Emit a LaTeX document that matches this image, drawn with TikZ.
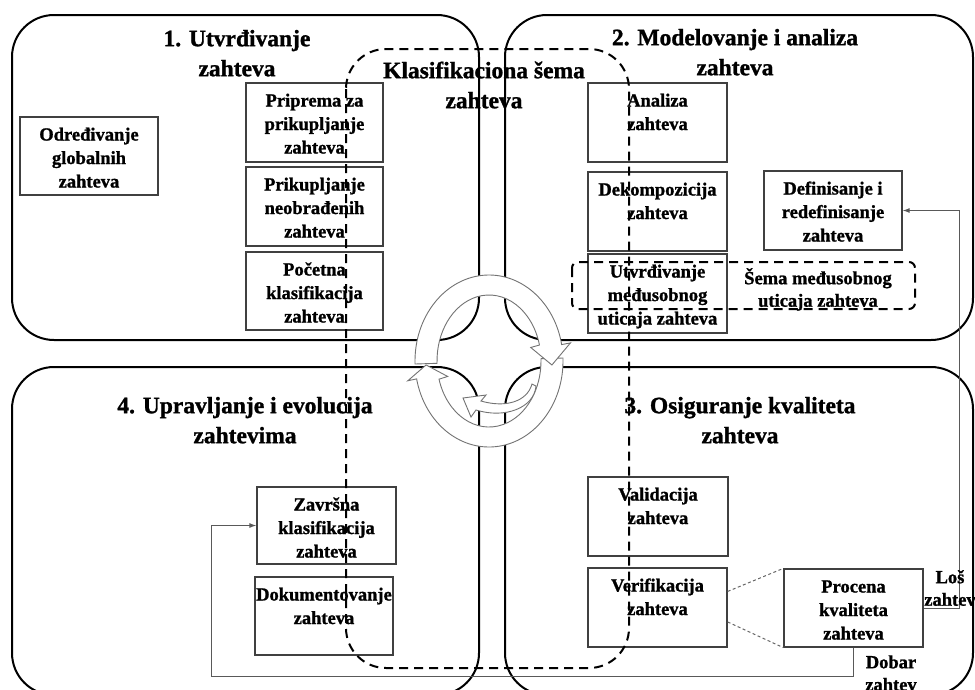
\documentclass[tikz,border=0pt]{standalone}
\usepackage{fontspec}
\setmainfont{Liberation Serif}[BoldFeatures={FakeBold=1.2}]
\usetikzlibrary{arrows.meta,calc}

% fonts used in the picture
\newcommand{\qboxfont}{\fontsize{18.5}{23.5}\selectfont\bfseries}
\newcommand{\qtitlefont}{\fontsize{23.5}{30}\selectfont\bfseries}
\newcommand{\qlabelfont}{\fontsize{18.5}{22.5}\selectfont\bfseries}
% top-aligned text inside a box of fixed size: width, height, text
\newcommand{\boxtxt}[3]{\parbox[c][#2pt][t]{#1pt}{\centering\rule{0pt}{23.5pt}#3}}

\begin{document}
\begin{tikzpicture}[x=1pt,y=1pt,
  quad/.style={draw=black, line width=2pt, rounded corners=42pt},
  box/.style={draw=black!75, line width=1.3pt, inner sep=0pt, font=\qboxfont},
  ttl/.style={align=center, inner sep=0pt, font=\qtitlefont, anchor=north},
  lbl/.style={align=center, inner sep=0pt, font=\qlabelfont, anchor=north},
  region/.style={draw=black, line width=2pt, dash pattern=on 9pt off 6pt},
  link/.style={draw=black!65, line width=1pt},
  arrowend/.style={-{Latex[length=7pt,width=5pt]}},
  fine/.style={draw=black!60, line width=1pt, dash pattern=on 3pt off 2.5pt},
  ringpart/.style={draw=black!55, line width=0.9pt, fill=white}]

\useasboundingbox (0,0) rectangle (975,-689);
\clip (0,0) rectangle (975,-689);

% the four phases
\draw[quad] (12,-15) rectangle (479,-340);
\draw[quad] (505,-15) rectangle (973,-340);
\draw[quad] (12,-367) rectangle (479,-695);
\draw[quad] (505,-367) rectangle (973,-695);

% phase titles
\node[ttl] (t1) at (237,-24) {\rule{0pt}{22pt}1. Utvrđivanje\\zahteva};
\node[ttl] (t2) at (735,-23) {\rule{0pt}{22pt}2. Modelovanje i analiza\\zahteva};
\node[ttl] (t4) at (245,-391) {\rule{0pt}{22pt}4. Upravljanje i evolucija\\zahtevima};
\node[ttl] (t3) at (740,-391) {\rule{0pt}{22pt}3. Osiguranje kvaliteta\\zahteva};
\node[ttl] (tk) at (484,-56) {\rule{0pt}{22pt}Klasifikaciona šema\\zahteva};

% activities, phase 1
\node[box] (og) at (89,-156) {\boxtxt{138}{78}{Određivanje\\globalnih\\zahteva}};
\node[box] (pz) at (314.5,-122.5) {\boxtxt{137}{79}{Priprema za\\prikupljanje\\zahteva}};
\node[box] (pn) at (314.5,-206.5) {\boxtxt{137}{79}{Prikupljanje\\neobrađenih\\zahteva}};
\node[box] (pk) at (314.5,-291) {\boxtxt{137}{78}{Početna\\klasifikacija\\zahteva}};

% activities, phase 2
\node[box] (an) at (657.5,-122.5) {\boxtxt{139}{79}{Analiza\\zahteva}};
\node[box] (dk) at (657.5,-211.5) {\boxtxt{139}{79}{Dekompozicija\\zahteva}};
\node[box] (um) at (657.5,-293.5) {\boxtxt{139}{79}{Utvrđivanje\\međusobnog\\uticaja zahteva}};
\node[box] (dr) at (833,-210.5) {\boxtxt{138}{79}{Definisanje i\\redefinisanje\\zahteva}};

% activities, phase 4
\node[box] (zk) at (326.5,-525.5) {\boxtxt{139}{77}{Završna\\klasifikacija\\zahteva}};
\node[box] (dz) at (324,-616) {\boxtxt{138}{78}{Dokumentovanje\\zahteva}};

% activities, phase 3
\node[box] (va) at (658,-516.5) {\boxtxt{140}{79}{Validacija\\zahteva}};
\node[box] (ve) at (657.5,-607.5) {\boxtxt{139}{79}{Verifikacija\\zahteva}};
\node[box] (pr) at (853.5,-608) {\boxtxt{139}{78}{Procena\\kvaliteta\\zahteva}};

% interaction scheme
\draw[region, rounded corners=6pt] (572,-262) rectangle (915,-309);
\node[lbl] (sm) at (818,-265) {\rule{0pt}{19pt}Šema međusobnog\\uticaja zahteva};

% classification scheme spanning the phases
\draw[region, rounded corners=40pt] (346,-49) rectangle (629,-668);

% quality assessment outcomes
\coordinate (lx) at (959,0);
\coordinate (gy) at (211,-676);
\draw[fine] ($(ve.north east)!0.3!(ve.south east)$) -- (pr.north west);
\draw[fine] ($(ve.north east)!0.68!(ve.south east)$) -- (pr.south west);
\draw[link, arrowend] (pr.east) -- (pr.east -| lx) |- (dr.east);
\draw[link, arrowend] (pr.south) |- (gy) |- (zk.west);
\node[lbl] (los) at (950,-564) {\rule{0pt}{19pt}Loš\\zahtev};
\node[lbl] (dob) at (891,-649) {\rule{0pt}{19pt}Dobar\\zahtev};

% circular arrows in the middle
\begin{scope}[shift={(489,-361)}]
  \draw[ringpart] (2:74pt and 86pt)
    arc[start angle=2, end angle=-168, x radius=74pt, y radius=86pt]
    -- (-168:83pt and 95pt) -- (-177:63pt and 76pt) -- (-164:43pt and 56pt)
    -- (-164:52pt and 66pt)
    arc[start angle=-164, end angle=2, x radius=52pt, y radius=66pt] -- cycle;
  \draw[ringpart] (182:74pt and 86pt)
    arc[start angle=182, end angle=11, x radius=74pt, y radius=86pt]
    -- (11:83pt and 95pt) -- (-3:63pt and 76pt) -- (14:43pt and 56pt)
    -- (14:52pt and 66pt)
    arc[start angle=14, end angle=182, x radius=52pt, y radius=66pt] -- cycle;
  \draw[ringpart] (43,-23) .. controls (38,-41) and (16,-47) .. (-8,-40)
    -- (-3,-34) -- (-26,-37) -- (-18,-56) -- (-13,-49)
    .. controls (16,-58) and (45,-47) .. (47,-25) -- cycle;
\end{scope}
\end{tikzpicture}
\end{document}
